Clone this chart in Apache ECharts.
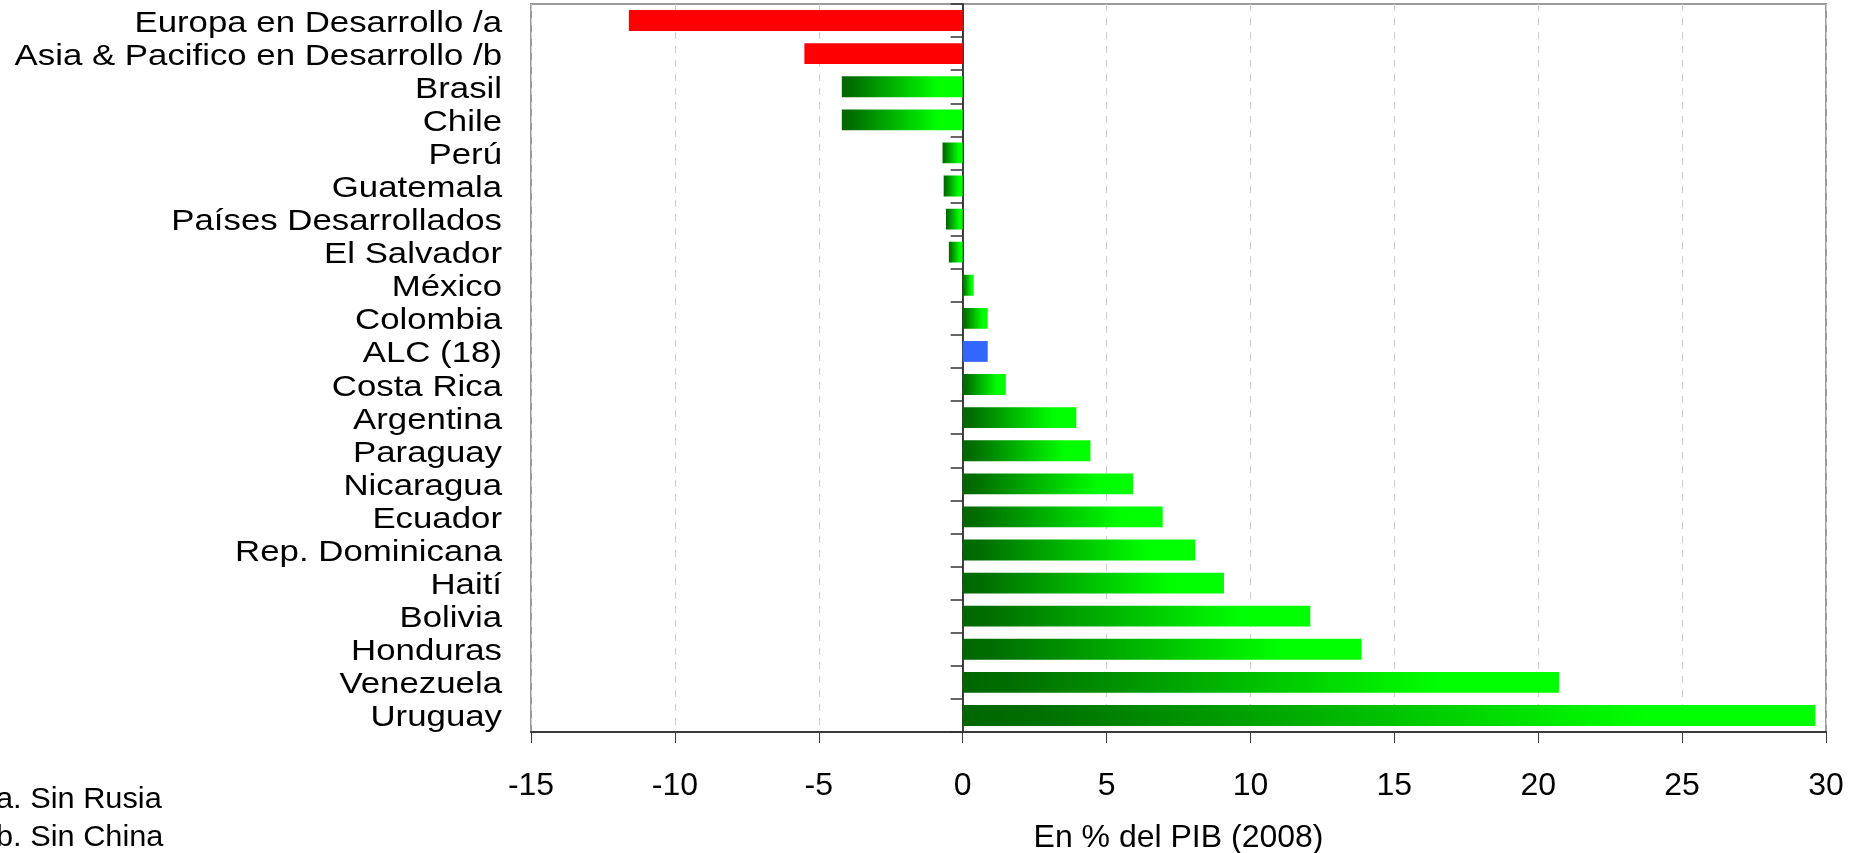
<!DOCTYPE html>
<html>
<head>
<meta charset="utf-8">
<script src="https://cdn.jsdelivr.net/npm/echarts@6/dist/echarts.min.js"></script>
<style>
  html, body { margin: 0; padding: 0; background: #fff; }
  #chart { width: 1856px; height: 853px; position: relative; }
  .nota { position: absolute; left: -4px; font-family: 'Liberation Sans', Arial, sans-serif; font-size: 29px; color: #000; line-height: 1; white-space: nowrap; transform: scaleX(1.06); transform-origin: left top; }
</style>
</head>
<body>
<div id="chart"></div>
<div class="nota" style="top:784px">a. Sin Rusia</div>
<div class="nota" style="top:822px">b. Sin China</div>
<script>
// Países y regiones, de arriba hacia abajo
const categorias = [
  'Europa en Desarrollo /a', 'Asia & Pacifico en Desarrollo /b', 'Brasil', 'Chile', 'Perú',
  'Guatemala', 'Países Desarrollados', 'El Salvador', 'México', 'Colombia', 'ALC (18)',
  'Costa Rica', 'Argentina', 'Paraguay', 'Nicaragua', 'Ecuador', 'Rep. Dominicana',
  'Haití', 'Bolivia', 'Honduras', 'Venezuela', 'Uruguay'
];

// En % del PIB (2008)
const valores = [
  -11.6, -5.5, -4.2, -4.2, -0.7,
  -0.66, -0.58, -0.48, 0.38, 0.87, 0.87,
  1.5, 3.95, 4.44, 5.92, 6.95, 8.08,
  9.08, 12.08, 13.86, 20.72, 29.63
];

// Marcas del eje horizontal
const ejeMin = -15;
const ejeMax = 30;
const ejePaso = 5;

// Grupos que se pintan distinto al resto de países
const regionesEnDesarrollo = ['Europa en Desarrollo /a', 'Asia & Pacifico en Desarrollo /b'];
const promedioRegional = ['ALC (18)'];

const FUENTE = "'Liberation Sans', Arial, sans-serif";

const verde = new echarts.graphic.LinearGradient(0, 0, 1, 0, [
  { offset: 0, color: '#006600' },
  { offset: 0.08, color: '#006e00' },
  { offset: 0.8, color: '#00ff00' },
  { offset: 1, color: '#00ff00' }
]);

function colorDe(nombre) {
  if (regionesEnDesarrollo.includes(nombre)) return '#ff0000';
  if (promedioRegional.includes(nombre)) return '#3366ff';
  return verde;
}

const datos = categorias.map((c, i) => ({
  value: valores[i],
  itemStyle: { color: colorDe(c) }
}));

const chart = echarts.init(document.getElementById('chart'), null, { renderer: 'canvas' });

chart.setOption({
  animation: false,
  backgroundColor: '#ffffff',
  textStyle: { fontFamily: FUENTE },
  grid: {
    left: 531, right: 30, top: 4, bottom: 121,
    containLabel: false,
    outerBoundsMode: 'none',
    show: true, borderColor: '#9a9a9a', borderWidth: 2, backgroundColor: '#ffffff'
  },
  xAxis: {
    type: 'value',
    min: ejeMin, max: ejeMax, interval: ejePaso,
    position: 'bottom',
    axisLine: { show: true, onZero: false, lineStyle: { color: '#3a3a3a', width: 2 } },
    axisTick: { show: true, length: 11, lineStyle: { color: '#3a3a3a', width: 1 } },
    axisLabel: { fontSize: 32, color: '#000', margin: 38, fontFamily: FUENTE },
    splitLine: { show: true, lineStyle: { color: '#cccccc', width: 1, type: [7, 7] } },
    name: 'En % del PIB (2008)',
    nameLocation: 'middle',
    nameGap: 90,
    nameTextStyle: { fontSize: 32, color: '#000', fontFamily: FUENTE }
  },
  yAxis: {
    // línea del cero con sus marcas; los nombres van al margen izquierdo
    type: 'category',
    data: categorias,
    inverse: true,
    position: 'left',
    axisLine: { show: true, onZero: true, lineStyle: { color: '#000', width: 1.5 } },
    axisTick: { show: true, inside: false, length: 12, lineStyle: { color: '#333', width: 1.5 } },
    axisLabel: { show: false },
    splitLine: { show: false }
  },
  series: [{
    type: 'bar',
    data: datos,
    barCategoryGap: '37%',
    z: 1
  }]
});

// Nombres de países alineados a la derecha junto al borde izquierdo del gráfico,
// ubicados en cada categoría mediante la escala del eje vertical
const bordeIzq = chart.convertToPixel({ xAxisIndex: 0 }, ejeMin);
chart.setOption({
  graphic: categorias.map((c) => ({
    type: 'text',
    x: bordeIzq - 29,
    y: chart.convertToPixel({ yAxisIndex: 0 }, c) + 3,
    scaleX: 1.2,
    silent: true,
    style: {
      text: c,
      align: 'right',
      verticalAlign: 'middle',
      fontFamily: FUENTE,
      fontSize: 29,
      fill: '#000'
    }
  }))
});
</script>
</body>
</html>
